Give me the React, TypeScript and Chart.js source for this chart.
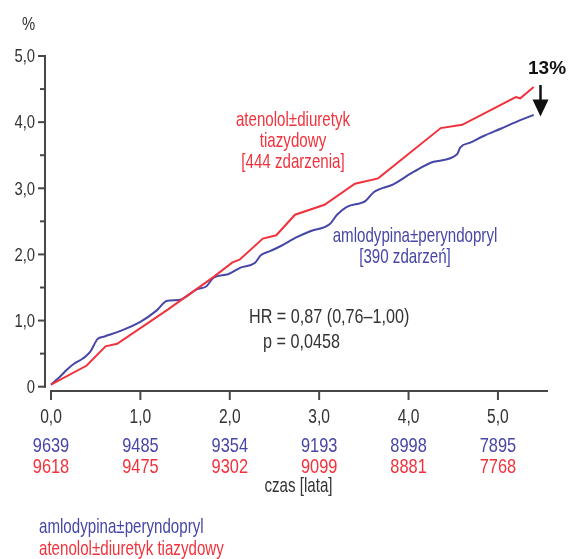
import React, { useEffect, useRef } from "react";
import { Chart, registerables } from "chart.js";

Chart.register(...registerables);

// ---- data ----
const blueYears = [0, 0.1, 0.18, 0.25, 0.36, 0.44, 0.52, 0.6, 0.77, 1.0, 1.18, 1.3, 1.43, 1.52, 1.63, 1.74, 1.82, 1.98, 2.12, 2.28, 2.35, 2.45, 2.56, 2.75, 2.9, 3.12, 3.2, 3.31, 3.52, 3.61, 3.83, 4.06, 4.28, 4.54, 4.58, 4.69, 4.84, 5.03, 5.25, 5.4];
const blueValues = [0.03, 0.15, 0.26, 0.34, 0.43, 0.53, 0.72, 0.76, 0.84, 0.98, 1.15, 1.3, 1.31, 1.37, 1.47, 1.52, 1.65, 1.7, 1.8, 1.87, 1.99, 2.05, 2.12, 2.26, 2.35, 2.46, 2.6, 2.72, 2.81, 2.94, 3.06, 3.25, 3.4, 3.51, 3.62, 3.69, 3.79, 3.9, 4.03, 4.11];
const redYears = [0, 0.4, 0.61, 0.74, 1.31, 1.82, 2.03, 2.11, 2.37, 2.52, 2.73, 3.06, 3.4, 3.66, 4.36, 4.6, 5.2, 5.25, 5.4];
const redValues = [0.03, 0.32, 0.61, 0.65, 1.17, 1.66, 1.88, 1.92, 2.24, 2.29, 2.6, 2.75, 3.07, 3.15, 3.91, 3.96, 4.38, 4.36, 4.53];

const xTickValues = [0, 1, 2, 3, 4, 5];
const xTickLabels = ["0,0", "1,0", "2,0", "3,0", "4,0", "5,0"];
const yTickValues = [0, 0.5, 1, 1.5, 2, 2.5, 3, 3.5, 4, 4.5, 5];
const yTickLabels = ["0", "", "1,0", "", "2,0", "", "3,0", "", "4,0", "", "5,0"];
const blueAtRisk = ["9639", "9485", "9354", "9193", "8998", "7895"];
const redAtRisk = ["9618", "9475", "9302", "9099", "8881", "7768"];

const blueName = "amlodypina±peryndopryl";
const redName = "atenolol±diuretyk tiazydowy";
const redLabelLines = ["atenolol±diuretyk", "tiazydowy", "[444 zdarzenia]"];
const blueLabelLines = ["amlodypina±peryndopryl", "[390 zdarzeń]"];
const hrLines = ["HR = 0,87 (0,76–1,00)", "p = 0,0458"];
const reductionLabel = "13%";
const xTitle = "czas [lata]";
const yTitle = "%";

const BLUE = "#4646a6";
const RED = "#f0323c";
const AXIS = "#474747";
const TEXT = "#333333";
const FONT = "'Liberation Sans', Arial, sans-serif";
const SX_NUM = 0.78;
const SX_WORD = 0.72;

function txt(
  ctx: CanvasRenderingContext2D,
  s: string,
  x: number,
  y: number,
  size: number,
  color: string,
  sx: number,
  align: CanvasTextAlign = "center",
  baseline: CanvasTextBaseline = "alphabetic"
) {
  ctx.save();
  ctx.translate(x, y);
  ctx.scale(sx, 1);
  ctx.font = `${size}px ${FONT}`;
  ctx.fillStyle = color;
  ctx.textAlign = align;
  ctx.textBaseline = baseline;
  ctx.fillText(s, 0, 0);
  ctx.restore();
}

const decorPlugin = {
  id: "decor",
  afterDraw(chart: any) {
    const ctx = chart.ctx as CanvasRenderingContext2D;
    const xs = chart.scales.x;
    const ys = chart.scales.y;
    const area = chart.chartArea;
    ctx.save();

    // y axis
    ctx.strokeStyle = AXIS;
    ctx.lineWidth = 2;
    ctx.lineCap = "butt";
    ctx.beginPath();
    ctx.moveTo(area.left, ys.getPixelForValue(5));
    ctx.lineTo(area.left, ys.getPixelForValue(0) + 1);
    ctx.stroke();
    yTickValues.forEach((v, i) => {
      const py = ys.getPixelForValue(v);
      const len = yTickLabels[i] ? 7 : 5;
      ctx.beginPath();
      ctx.moveTo(area.left - len, py);
      ctx.lineTo(area.left + 1, py);
      ctx.stroke();
    });
    yTickValues.forEach((v, i) => {
      if (yTickLabels[i]) txt(ctx, yTickLabels[i], area.left - 10, ys.getPixelForValue(v) + 1, 19, TEXT, SX_NUM, "right", "middle");
    });
    txt(ctx, yTitle, 28.5, 30, 19, TEXT, SX_NUM);

    // x axis
    const by = area.bottom;
    ctx.beginPath();
    ctx.moveTo(xs.getPixelForValue(0) - 1, by);
    ctx.lineTo(area.right, by);
    ctx.stroke();
    xTickValues.forEach((v) => {
      const px = xs.getPixelForValue(v);
      ctx.beginPath();
      ctx.moveTo(px, by);
      ctx.lineTo(px, by + 9);
      ctx.stroke();
    });
    xTickValues.forEach((v, i) => {
      const px = xs.getPixelForValue(v);
      txt(ctx, xTickLabels[i], px, 423, 20, TEXT, SX_NUM);
      txt(ctx, blueAtRisk[i], px, 452, 21, BLUE, SX_NUM);
      txt(ctx, redAtRisk[i], px, 473, 21, RED, SX_NUM);
    });
    txt(ctx, xTitle, (area.left + area.right) / 2 + 2, 492, 21, TEXT, SX_WORD);

    // legend
    txt(ctx, blueName, 39, 533, 21, BLUE, SX_WORD, "left");
    txt(ctx, redName, 39, 555, 21, RED, SX_WORD, "left");

    // in-chart labels
    redLabelLines.forEach((s, i) => txt(ctx, s, 293, 126 + i * 21, 21, RED, SX_WORD));
    txt(ctx, blueLabelLines[0], 415, 242, 21, BLUE, SX_WORD);
    txt(ctx, blueLabelLines[1], 405, 263, 21, BLUE, SX_WORD);
    txt(ctx, hrLines[0], 249, 323, 21, TEXT, 0.77, "left");
    txt(ctx, hrLines[1], 263, 348, 21, TEXT, 0.77, "left");

    // 13% and arrow
    ctx.fillStyle = "#111";
    ctx.font = `bold 19px 'Liberation Sans', Arial, sans-serif`;
    ctx.textAlign = "left";
    ctx.textBaseline = "alphabetic";
    ctx.fillText(reductionLabel, 528, 74);
    ctx.strokeStyle = "#111";
    ctx.lineWidth = 2.5;
    ctx.beginPath();
    ctx.moveTo(540.5, 85);
    ctx.lineTo(540.5, 101);
    ctx.stroke();
    ctx.beginPath();
    ctx.moveTo(532.5, 99.5);
    ctx.lineTo(548.5, 99.5);
    ctx.lineTo(540.5, 116.5);
    ctx.closePath();
    ctx.fill();

    ctx.restore();
  },
};

export default function App() {
  const ref = useRef<HTMLCanvasElement | null>(null);
  useEffect(() => {
    document.body.style.margin = "0";
    const canvas = ref.current;
    if (!canvas) return;
    const chart = new Chart(canvas, {
      type: "line",
      data: {
        datasets: [
          {
            label: redName,
            data: redYears.map((x, i) => ({ x, y: redValues[i] })),
            borderColor: RED,
            borderWidth: 2,
            pointRadius: 0,
            tension: 0,
            fill: false,
          },
          {
            label: blueName,
            data: blueYears.map((x, i) => ({ x, y: blueValues[i] })),
            borderColor: BLUE,
            borderWidth: 2,
            pointRadius: 0,
            cubicInterpolationMode: "monotone",
            fill: false,
          },
        ],
      },
      options: {
        animation: false,
        responsive: false,
        maintainAspectRatio: false,
        devicePixelRatio: 1,
        layout: { padding: { left: 45, top: 56, right: 20, bottom: 168 } },
        plugins: { legend: { display: false }, tooltip: { enabled: false } },
        scales: {
          x: { type: "linear", min: -0.067, max: 5.56, display: false },
          y: { type: "linear", min: -0.065, max: 5.0, display: false },
        },
      } as any,
      plugins: [decorPlugin],
    });
    return () => chart.destroy();
  }, []);
  return (
    <div style={{ width: 568, height: 559 }}>
      <canvas ref={ref} width={568} height={559} style={{ display: "block" }} />
    </div>
  );
}
